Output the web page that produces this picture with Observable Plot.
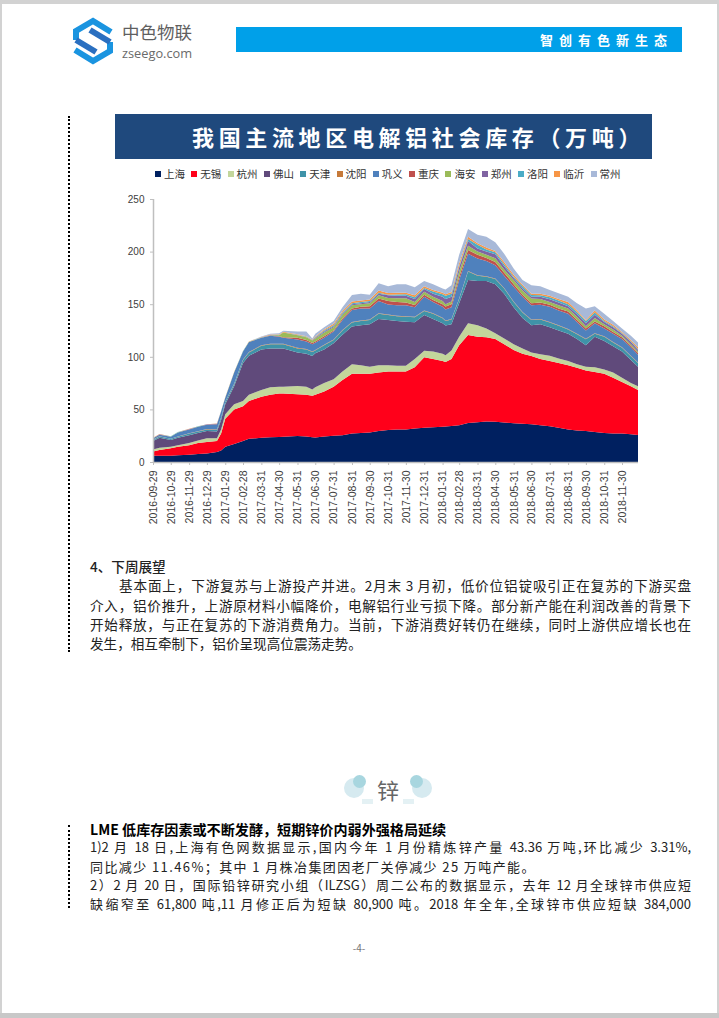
<!DOCTYPE html>
<html lang="zh"><head><meta charset="utf-8">
<script src="https://cdn.jsdelivr.net/npm/d3@7"></script>
<script src="https://cdn.jsdelivr.net/npm/@observablehq/plot@0.6"></script>
<style>
html,body{margin:0;padding:0;background:#fff}
#page{position:relative;width:719px;height:1018px;overflow:hidden;background:#fff;font-family:"Noto Sans CJK SC","Noto Sans",sans-serif;color:#1a1a1a}
.abs{position:absolute}
.ln{position:absolute;left:90px;width:601px;white-space:nowrap;line-height:20px;font-size:13.6px;color:#222}
.j{text-align:justify;text-align-last:justify;white-space:normal}
.leg{position:absolute;top:168px;font-size:10.5px;line-height:12px;color:#333;white-space:nowrap}
.leg i{display:inline-block;width:6px;height:6px;margin-right:3px;vertical-align:1px}
svg text{font-family:"Liberation Sans",Arial,sans-serif}
</style></head><body>
<div id="page">
  <div class="abs" style="left:0;top:0;width:719px;height:4px;background:#d2d2d2"></div>
  <div class="abs" style="left:0;top:0;width:2px;height:1018px;background:#d2d2d2"></div>
  <div class="abs" style="left:717px;top:0;width:2px;height:1018px;background:#d2d2d2"></div>
  <div class="abs" style="left:0;top:1013px;width:719px;height:5px;background:#c8c8c8"></div>

  <svg class="abs" style="left:70px;top:16px" width="48" height="50" viewBox="0 0 48 50" fill="none" stroke-width="6" stroke-linejoin="miter">
    <path d="M41,16 L23,5 L6,15 L6,24" stroke="#1a94e0"/>
    <path d="M5,34 L23,45 L40,35 L40,26" stroke="#1a94e0"/>
    <path d="M6,24 L26,36" stroke="#2a6fc0"/>
    <path d="M40,26 L20,14" stroke="#2a6fc0"/>
  </svg>
  <div class="abs" style="left:122px;top:23px;font-size:17.5px;line-height:18px;color:#5f5f5f;white-space:nowrap">中色物联</div>
  <div class="abs" style="left:122px;top:46px;font-size:12.8px;line-height:14px;color:#6a6a6a;font-family:'Open Sans',sans-serif">zseego.com</div>
  <div class="abs" style="left:236px;top:27px;width:446px;height:25px;background:#00a0e9"></div>
  <div class="abs" style="left:540px;top:30px;font-size:13px;line-height:19px;font-weight:700;color:#fff;letter-spacing:6px;white-space:nowrap">智创有色新生态</div>

  <div class="abs" style="left:68px;top:116px;height:536px;border-left:2px dotted #000"></div>
  <div class="abs" style="left:68px;top:825px;height:83px;border-left:2px dotted #000"></div>

  <div class="abs" style="left:115px;top:114px;width:537px;height:45px;background:#1f497d"></div>
  <div class="abs" style="left:192px;top:121px;font-size:22px;line-height:30px;font-weight:700;color:#fff;letter-spacing:4.65px;white-space:nowrap">我国主流地区电解铝社会库存（万吨）</div>
  <div id="legend"></div>
  <div id="chart" class="abs" style="left:100px;top:190px"></div>

  <div class="ln" style="top:556px;font-weight:500">4、下周展望</div>
  <div class="ln j" style="top:575px;left:119px;width:572px">基本面上，下游复苏与上游投产并进。2月末 3 月初，低价位铝锭吸引正在复苏的下游买盘</div>
  <div class="ln j" style="top:595px">介入，铝价推升，上游原材料小幅降价，电解铝行业亏损下降。部分新产能在利润改善的背景下</div>
  <div class="ln j" style="top:614px">开始释放，与正在复苏的下游消费角力。当前，下游消费好转仍在继续，同时上游供应增长也在</div>
  <div class="ln" style="top:633px">发生，相互牵制下，铝价呈现高位震荡走势。</div>

  <div class="abs" style="left:344px;top:778px;width:20px;height:20px;border-radius:50%;background:#d6eaf0"></div>
  <div class="abs" style="left:353px;top:775px;width:13px;height:13px;border-radius:50%;background:#a8d6df"></div>
  <div class="abs" style="left:412px;top:778px;width:20px;height:20px;border-radius:50%;background:#d6eaf0"></div>
  <div class="abs" style="left:410px;top:775px;width:13px;height:13px;border-radius:50%;background:#a8d6df"></div>
  <div class="abs" style="left:362px;top:799px;width:11px;height:5px;background:#e4f1f4"></div>
  <div class="abs" style="left:403px;top:799px;width:11px;height:5px;background:#e4f1f4"></div>
  <div class="abs" style="left:377px;top:773px;font-size:22px;line-height:32px;color:#666">锌</div>

  <div class="ln" style="top:819px;font-weight:700;color:#000;font-size:14.1px">LME 低库存因素或不断发酵，短期锌价内弱外强格局延续</div>
  <div class="ln j" style="top:837px;font-size:13px">1)2 月 18 日,上海有色网数据显示,国内今年 1 月份精炼锌产量 43.36 万吨,环比减少 3.31%,</div>
  <div class="ln" style="top:857px;font-size:13px;letter-spacing:1.4px">同比减少 11.46%；其中 1 月株冶集团因老厂关停减少 25 万吨产能。</div>
  <div class="ln j" style="top:875px;font-size:13px">2）2 月 20 日，国际铅锌研究小组（ILZSG）周二公布的数据显示，去年 12 月全球锌市供应短</div>
  <div class="ln j" style="top:894px;font-size:13px">缺缩窄至 61,800 吨,11 月修正后为短缺 80,900 吨。2018 年全年,全球锌市供应短缺 384,000</div>
  <div class="abs" style="left:340px;width:38px;text-align:center;top:941px;font-size:10px;line-height:14px;color:#777">-4-</div>
</div>
<script>
const regions = ["上海","无锡","杭州","佛山","天津","沈阳","巩义","重庆","海安","郑州","洛阳","临沂","常州"];
const colors = ["#002060","#ff001a","#c3d69b","#604a7b","#3f93a8","#c67a3a","#4f81bd","#c0504d","#9bbb59","#8064a2","#4bacc6","#f79646","#a8b9d8"];
const tickLabels = ["2016-09-29","2016-10-29","2016-11-29","2016-12-29","2017-01-29","2017-02-28","2017-03-31","2017-04-30","2017-05-31","2017-06-30","2017-07-31","2017-08-31","2017-09-30","2017-10-31","2017-11-30","2017-12-31","2018-01-31","2018-02-28","2018-03-31","2018-04-30","2018-05-31","2018-06-30","2018-07-31","2018-08-31","2018-09-30","2018-10-31","2018-11-30"];
const dates = ["2016-09-29","2016-10-10","2016-10-29","2016-11-10","2016-11-29","2016-12-14","2016-12-29","2017-01-15","2017-01-22","2017-01-29","2017-02-13","2017-02-28","2017-03-10","2017-03-31","2017-04-15","2017-04-30","2017-05-07","2017-05-31","2017-06-15","2017-06-25","2017-06-30","2017-07-15","2017-07-31","2017-08-15","2017-08-31","2017-09-15","2017-09-30","2017-10-15","2017-10-31","2017-11-15","2017-11-30","2017-12-15","2017-12-31","2018-01-15","2018-01-31","2018-02-05","2018-02-15","2018-02-28","2018-03-15","2018-03-31","2018-04-15","2018-04-30","2018-05-15","2018-05-31","2018-06-15","2018-06-30","2018-07-15","2018-07-31","2018-08-15","2018-08-31","2018-09-15","2018-09-30","2018-10-15","2018-10-31","2018-11-15","2018-11-30","2018-12-15","2018-12-27"];
const shanghai = [6,6,6,6.3,7,7.5,8,9.5,11,14.6,17,20,22,23,23.5,23.8,24,24.7,24.3,23.5,23.4,24.2,25,25.5,27,27.5,28,29.5,30.4,31,31,31.8,32.6,33,33.6,33.8,34.2,35,37,37.7,38.5,38.3,37.5,36.8,36.4,36,35,34,32.5,31,30,29.5,28.5,27.6,27.2,27,26.3,25.7];
const wuxi = [4,5.5,7,8.3,9,10.5,11,10.5,16,26.4,33,33,36,39,40.5,41.2,41,39.6,39.7,39.5,40.6,42.8,46.6,52.5,57,56.5,56,55.5,55.6,55,55,58.2,66.9,65,62.4,61.2,63.8,76,83.7,81.3,80,78.7,74.5,69.7,66.6,64.8,63,62,61.5,61,59.5,57.5,57,56.4,52.8,49,45.7,42.8];
const hangzhou = [2,2.1,1.5,1.4,2,2.5,3.5,2.5,4,4.5,5,5,6,6.4,7,6.6,6.6,7.9,7.6,6,7,8,7,8,9,8,6.6,7,6,5.5,5.6,8,6.3,7,7,6.5,8,8,11.3,11,8.5,5.5,5.5,5.5,5,3.2,4.5,5,4.5,4,3.5,3.6,4.5,4,5,4,3,3.5];
const foshan = [8,9.4,6.5,7,7.5,7,7,6.5,9,9.5,17,36,37,38.6,37,36.4,36.4,31.8,31.4,31.7,32.3,32,34.2,35,35.7,38,40.4,44,43,42.5,41.8,34.8,33.9,31,28.8,28.2,25,32,41,42,45,46.5,42.5,35,29,26,28.5,27,26.5,26,24,20.4,29,27,25,25,22,18.6];
const tianjin = [1,1.2,1,1,1.5,1.5,1.5,1.5,2,2,2,3,3,3.5,4,4,4,4,4,3.8,2.7,4,3.2,4,3.8,4,4,5,4.7,4.5,4.6,4.7,3.9,5,4.9,4.3,4.5,4,8,5,4,5,5,5,5,5,4.5,4.5,4.5,4,4.5,5.7,3,4,3.5,3.5,3.5,3.4];
const shenyang = [.2,.3,.2,.3,.3,.3,.3,.3,.3,.3,.5,.5,.5,.5,.5,.5,.5,.5,.5,.5,.5,.5,.5,.5,.5,.5,.5,.5,.5,.5,.5,.5,.4,.5,.5,.5,.5,.5,.5,.5,.5,.5,.5,.5,.5,.5,.5,.5,.5,.5,.5,.5,.5,.5,.5,.5,.5,.5];
const gongyi = [1.3,1.5,1.8,3.7,3.7,4.2,4.2,5.2,5.7,3.7,10.5,7.5,9.5,7,7.5,6.5,5.5,8,7,7,6.8,6.5,7.5,9.5,11.5,11.5,10.5,11.5,9.6,10,10.5,9,13,10.5,10.4,10.5,11,17.5,16.5,16,14.5,12.5,11.5,14.2,14.5,13.5,13.5,14.6,14,14.5,11,7.8,9.3,7.5,8,8,8,7.5];
const chongqing = [.1,.1,.1,.1,.1,.1,.1,.1,.1,.1,.1,.1,.1,.2,.3,.5,.5,1.5,1.5,1,1.2,1.5,1,1.5,1.5,1.5,2,2.5,3.2,3,2.7,2.3,2,2,2.4,2.7,3,3,3.5,3.5,3,3,3,2.3,2,2,2,1.9,2,2,2,2,1.7,2,1.5,1.5,1.5,1.6];
const haian = [.1,.1,.1,.1,.1,.1,.1,.1,.1,.1,.1,.1,.1,.2,.3,1,4.5,2.5,2.5,2.5,3,3.5,3,3.5,3,2.5,3,3,3,3.6,3.9,2.7,2.9,3,3,2.3,2.5,5,4.1,3,3,3.6,3,4,4,4.5,3.5,2.5,3,3,3,2,3.5,2,2.5,1.5,1.5,1.4];
const zhengzhou = [.1,.1,.1,.1,.1,.1,.1,.1,.1,.1,.1,.1,.1,.1,.1,.1,.1,.2,.2,.2,.5,1,1,1,1,1,1,1.5,2.5,2.4,2.4,3,2.6,3,4,5,4.5,4,4.4,3,3,3.9,3,2,2,1.5,2,2.6,2.5,2,2.5,3,3,2,2,2,2,1.6];
const luoyang = [.1,.1,.1,.1,.1,.1,.1,.1,.1,.1,.1,.1,.1,.1,.1,.1,.1,.2,.3,.3,.6,1,1,1,1,1,1,1,.5,1.3,1.5,1.5,.8,2,2.4,3,3,1,2,3.6,2,1.8,2,1,2,1.7,1.5,1.9,2,2,2,2,2,1,1,.7,.7,.7];
const linyi = [.1,.1,.1,.1,.1,.1,.1,.1,.1,.1,.1,.1,.1,.3,.4,.5,.5,.6,.6,.5,.6,1,1.5,1.5,1.5,1.5,1.5,2,1.6,1.7,1.5,1.9,1.7,1.5,1.6,1.5,1.5,3,2,1.4,2,1.3,2,2,1.5,1.3,1.5,1.5,1.5,2,1.5,1,2,1.5,1.5,.8,1.3,1.7];
const changzhou = [0,0,0,0,0,0,0,0,0,0,0,0,0,.5,.8,1.3,1.1,2.5,4.4,1,2.8,2,2.5,3.5,6.2,6.5,4.5,7,6.4,8,8,7.6,5,5.5,4,4.5,6.5,8,7.5,8,10,8.4,8,6,4.5,8,7,5.5,5.5,5,7,11,4,5.5,3.5,3.5,4,4.5];
const series = [shanghai,wuxi,hangzhou,foshan,tianjin,shenyang,gongyi,chongqing,haian,zhengzhou,luoyang,linyi,changzhou];

series.forEach((s,i)=>{ if(s.length!==dates.length) throw new Error(regions[i]+" length "+s.length+" vs "+dates.length); });

const parse = d3.utcParse("%Y-%m-%d");
const rows = regions.flatMap((r,i)=>dates.map((d,j)=>({date:parse(d),region:r,value:series[i][j]})));

const legend = document.getElementById("legend");
regions.forEach((r,i)=>{
  const el = document.createElement("div");
  el.className = "leg";
  el.style.left = (155 + i*36.3) + "px";
  el.innerHTML = `<i style="background:${colors[i]}"></i>${r}`;
  legend.appendChild(el);
});

const chart = Plot.plot({
  width:560, height:350,
  marginLeft:53, marginRight:22, marginTop:9, marginBottom:78,
  style:{background:"transparent",overflow:"visible"},
  x:{type:"utc",domain:[parse("2016-09-29"),parse("2018-12-27")]},
  y:{domain:[0,250]},
  color:{domain:regions,range:colors},
  marks:[
    Plot.areaY(rows,{x:"date",y:"value",z:"region",fill:"region",curve:"linear"}),
    Plot.ruleX([parse("2016-09-29")],{stroke:"#bfbfbf",strokeWidth:1.5}),
    Plot.ruleY([0],{stroke:"#bfbfbf",strokeWidth:1.5}),
    Plot.axisY({ticks:[0,50,100,150,200,250],tickSize:3,tickPadding:6,stroke:"#bfbfbf",color:"#404040",fontSize:10,label:null}),
    Plot.axisX({ticks:tickLabels.map(parse),tickFormat:d3.utcFormat("%Y-%m-%d"),tickRotate:-90,tickSize:3,tickPadding:5,stroke:"#bfbfbf",color:"#404040",fontSize:10.5,label:null})
  ]
});
document.getElementById("chart").appendChild(chart);
</script>
</body></html>
